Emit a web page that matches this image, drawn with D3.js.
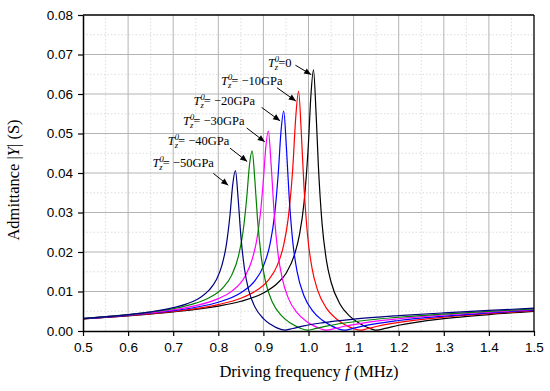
<!DOCTYPE html>
<html lang="en">
<head>
  <meta charset="UTF-8">
  <script src="https://d3js.org/d3.v7.min.js"></script>
  <style>
    body { margin: 0; background: #fff; }
  </style>
</head>
<body>
  <svg id="chart" width="550" height="391"></svg>
  <script>
    // tick values
    var xTicks = [0.5, 0.6, 0.7, 0.8, 0.9, 1.0, 1.1, 1.2, 1.3, 1.4, 1.5];
    var xMinor = [0.55, 0.65, 0.75, 0.85, 0.95, 1.05, 1.15, 1.25, 1.35, 1.45];
    var yTicks = [0, 0.01, 0.02, 0.03, 0.04, 0.05, 0.06, 0.07, 0.08];
    var yMinor = [0.005, 0.015, 0.025, 0.035, 0.045, 0.055, 0.065, 0.075];

    // Tz0 = 0
    var fBlack = [0.5, 0.6, 0.7, 0.8, 0.85, 0.9, 0.93, 0.95, 0.97, 0.98, 0.99, 1.0, 1.005, 1.011, 1.017, 1.022, 1.03, 1.04, 1.05, 1.07, 1.09, 1.11, 1.13, 1.151, 1.17, 1.2, 1.3, 1.4, 1.5];
    var yBlack = [0.00306, 0.00385, 0.00483, 0.00632, 0.00752, 0.00962, 0.01197, 0.01457, 0.0197, 0.0244, 0.0324, 0.0478, 0.0590, 0.0661, 0.0546, 0.0416, 0.0273, 0.0177, 0.0124, 0.00679, 0.00391, 0.00214, 0.00094, 0.0002, 0.00065, 0.00145, 0.00313, 0.00417, 0.00498];
    // Tz0 = -10 GPa
    var fRed = [0.5, 0.6, 0.7, 0.8, 0.85, 0.88, 0.91, 0.93, 0.945, 0.955, 0.965, 0.972, 0.978, 0.984, 0.99, 0.998, 1.008, 1.02, 1.04, 1.06, 1.08, 1.1, 1.114, 1.13, 1.15, 1.2, 1.3, 1.4, 1.5];
    var yRed = [0.00309, 0.0039, 0.00496, 0.00669, 0.00829, 0.00992, 0.01274, 0.01643, 0.0218, 0.0285, 0.0410, 0.0546, 0.0607, 0.0503, 0.0365, 0.0241, 0.0158, 0.0104, 0.00574, 0.00324, 0.00167, 0.00059, 0.0002, 0.00056, 0.00113, 0.00217, 0.0035, 0.00441, 0.00515];
    // Tz0 = -20 GPa
    var fBlue = [0.5, 0.6, 0.7, 0.75, 0.8, 0.85, 0.88, 0.9, 0.915, 0.925, 0.933, 0.939, 0.945, 0.951, 0.957, 0.965, 0.975, 0.99, 1.01, 1.03, 1.05, 1.065, 1.079, 1.095, 1.12, 1.2, 1.3, 1.4, 1.5];
    var yBlue = [0.00313, 0.00398, 0.00516, 0.00601, 0.00729, 0.00969, 0.01256, 0.01643, 0.0222, 0.0296, 0.0400, 0.0505, 0.0557, 0.0465, 0.0341, 0.0227, 0.0149, 0.00893, 0.00497, 0.00277, 0.00136, 0.00058, 0.0002, 0.00055, 0.00123, 0.00266, 0.00377, 0.00459, 0.00528];
    // Tz0 = -30 GPa
    var fMag = [0.5, 0.6, 0.7, 0.75, 0.8, 0.83, 0.86, 0.875, 0.885, 0.893, 0.9, 0.905, 0.911, 0.917, 0.924, 0.932, 0.942, 0.955, 0.975, 0.995, 1.01, 1.025, 1.04, 1.055, 1.08, 1.12, 1.2, 1.3, 1.4, 1.5];
    var yMag = [0.00316, 0.00406, 0.00536, 0.00641, 0.00819, 0.01009, 0.01401, 0.0181, 0.0229, 0.0294, 0.0383, 0.0461, 0.0506, 0.0423, 0.0296, 0.0199, 0.0132, 0.00839, 0.00458, 0.00248, 0.00143, 0.00063, 0.0002, 0.00052, 0.0012, 0.00201, 0.0031, 0.00405, 0.00479, 0.00544];
    // Tz0 = -40 GPa
    var fGreen = [0.5, 0.6, 0.65, 0.7, 0.75, 0.78, 0.81, 0.83, 0.845, 0.855, 0.863, 0.869, 0.875, 0.881, 0.887, 0.895, 0.905, 0.92, 0.94, 0.96, 0.98, 0.998, 1.015, 1.04, 1.08, 1.15, 1.2, 1.3, 1.4, 1.5];
    var yGreen = [0.00318, 0.00414, 0.00478, 0.00565, 0.00704, 0.00841, 0.01091, 0.01421, 0.01909, 0.02526, 0.03366, 0.04191, 0.0456, 0.03832, 0.02825, 0.01891, 0.01235, 0.00727, 0.00388, 0.0020, 0.00079, 0.0002, 0.00058, 0.00124, 0.00202, 0.00297, 0.00348, 0.00429, 0.00497, 0.00558];
    // Tz0 = -50 GPa
    var fNavy = [0.5, 0.6, 0.65, 0.7, 0.73, 0.76, 0.78, 0.795, 0.808, 0.818, 0.826, 0.832, 0.838, 0.844, 0.85, 0.858, 0.868, 0.88, 0.9, 0.915, 0.93, 0.947, 0.965, 0.99, 1.03, 1.1, 1.2, 1.3, 1.4, 1.5];
    var yNavy = [0.00315, 0.00414, 0.00485, 0.0059, 0.00687, 0.00849, 0.01039, 0.01283, 0.01661, 0.02194, 0.02942, 0.03706, 0.0406, 0.03348, 0.02411, 0.01577, 0.01008, 0.00636, 0.00314, 0.00176, 0.0008, 0.0002, 0.00064, 0.00131, 0.00207, 0.00299, 0.00389, 0.00459, 0.00521, 0.00577];

    var seriesLabels = ['0', '\u221210GPa', '\u221220GPa', '\u221230GPa', '\u221240GPa', '\u221250GPa'];
    var seriesColors = ['#000000', '#ff0000', '#0000ff', '#ff00ff', '#008000', '#000080'];
    // annotation anchors in data units: text start, arrow tail, arrow tip
    var labelF = [0.910, 0.806, 0.745, 0.722, 0.688, 0.654];
    var labelY = [0.0669, 0.0623, 0.0572, 0.0521, 0.0471, 0.0415];
    var tailF = [0.971, 0.930, 0.896, 0.863, 0.826, 0.789];
    var tailY = [0.0673, 0.0616, 0.0566, 0.0514, 0.0463, 0.0399];
    var tipF = [1.006, 0.972, 0.937, 0.903, 0.864, 0.822];
    var tipY = [0.0649, 0.0582, 0.0532, 0.0479, 0.0429, 0.0369];

    var series = [
      [fBlack, yBlack], [fRed, yRed], [fBlue, yBlue],
      [fMag, yMag], [fGreen, yGreen], [fNavy, yNavy]
    ];

    var svg = d3.select('#chart');
    var x = d3.scaleLinear().domain([0.5, 1.5]).range([83, 534]);
    var y = d3.scaleLinear().domain([0, 0.08]).range([331, 15]);

    // grid
    var grid = svg.append('g');
    grid.selectAll('.xmin').data(xMinor).enter().append('line')
      .attr('x1', d => x(d)).attr('x2', d => x(d)).attr('y1', y(0)).attr('y2', y(0.08))
      .attr('stroke', '#d4d4d4').attr('stroke-width', 0.8).attr('stroke-dasharray', '1.5,2');
    grid.selectAll('.ymin').data(yMinor).enter().append('line')
      .attr('x1', x(0.5)).attr('x2', x(1.5)).attr('y1', d => y(d)).attr('y2', d => y(d))
      .attr('stroke', '#d4d4d4').attr('stroke-width', 0.8).attr('stroke-dasharray', '1.5,2');
    grid.selectAll('.xmaj').data(xTicks.slice(1, -1)).enter().append('line')
      .attr('x1', d => x(d)).attr('x2', d => x(d)).attr('y1', y(0)).attr('y2', y(0.08))
      .attr('stroke', '#b4b4b4').attr('stroke-width', 1);
    grid.selectAll('.ymaj').data(yTicks.slice(1, -1)).enter().append('line')
      .attr('x1', x(0.5)).attr('x2', x(1.5)).attr('y1', d => y(d)).attr('y2', d => y(d))
      .attr('stroke', '#b4b4b4').attr('stroke-width', 1);

    // curves
    var line = d3.line().x(d => x(d[0])).y(d => y(d[1])).curve(d3.curveMonotoneX);
    series.forEach(function(s, i) {
      var pts = s[0].map((f, k) => [f, s[1][k]]);
      svg.append('path').datum(pts)
        .attr('d', line).attr('fill', 'none')
        .attr('stroke', seriesColors[i]).attr('stroke-width', 1.2);
    });

    // frame top / right
    svg.append('line').attr('x1', x(0.5)).attr('x2', x(1.5)).attr('y1', y(0.08)).attr('y2', y(0.08))
      .attr('stroke', '#000').attr('stroke-width', 1.3);
    svg.append('line').attr('x1', x(1.5)).attr('x2', x(1.5)).attr('y1', y(0)).attr('y2', y(0.08))
      .attr('stroke', '#000').attr('stroke-width', 1.3);

    // axes
    var tickFont = '"Liberation Sans", Arial, sans-serif';
    var gx = svg.append('g').attr('transform', 'translate(0,' + y(0) + ')');
    gx.call(d3.axisBottom(x).tickValues(xMinor).tickSize(3).tickFormat('').tickSizeOuter(0));
    gx.call(d3.axisBottom(x).tickValues(xTicks).tickSize(5).tickPadding(6).tickSizeOuter(0)
      .tickFormat(d3.format('.1f')));
    var gy = svg.append('g').attr('transform', 'translate(' + x(0.5) + ',0)');
    gy.call(d3.axisLeft(y).tickValues(yMinor).tickSize(3).tickFormat('').tickSizeOuter(0));
    gy.call(d3.axisLeft(y).tickValues(yTicks).tickSize(5).tickPadding(5).tickSizeOuter(0)
      .tickFormat(d3.format('.2f')));
    svg.selectAll('.domain').attr('stroke', '#000').attr('stroke-width', 1.5);
    svg.selectAll('.tick line').attr('stroke', '#000').attr('stroke-width', 1.2);
    svg.selectAll('.tick text').attr('font-family', tickFont).attr('font-size', 13.5).attr('fill', '#000');

    // axis titles
    var serif = '"Liberation Serif", "Times New Roman", serif';
    var xt = svg.append('text').attr('x', 309).attr('y', 377).attr('text-anchor', 'middle')
      .attr('font-family', serif).attr('font-size', 16.5);
    xt.append('tspan').text('Driving frequency ');
    xt.append('tspan').attr('font-style', 'italic').text('f');
    xt.append('tspan').text(' (MHz)');

    var yt = svg.append('text').attr('transform', 'translate(19,180) rotate(-90)')
      .attr('text-anchor', 'middle').attr('font-family', serif).attr('font-size', 16.5);
    yt.append('tspan').text('Admittance |');
    yt.append('tspan').attr('font-style', 'italic').text('Y');
    yt.append('tspan').text('| (S)');

    // annotations
    var notes = svg.append('g');
    seriesLabels.forEach(function(lab, i) {
      var t = notes.append('text').attr('x', x(labelF[i])).attr('y', y(labelY[i]))
        .attr('font-family', serif).attr('font-size', 12.5).attr('fill', '#000');
      t.append('tspan').attr('font-style', 'italic').text('T');
      t.append('tspan').attr('font-style', 'italic').attr('font-size', 8.5).attr('dy', -5).text('0');
      t.append('tspan').attr('font-style', 'italic').attr('font-size', 8.5).attr('dx', -4.3).attr('dy', 8).text('z');
      t.append('tspan').attr('dy', -3).text(i === 0 ? '=' + lab : '= ' + lab);

      var x1 = x(tailF[i]), y1 = y(tailY[i]), x2 = x(tipF[i]), y2 = y(tipY[i]);
      var ang = Math.atan2(y2 - y1, x2 - x1) * 180 / Math.PI;
      notes.append('line')
        .attr('x1', x1).attr('y1', y1).attr('x2', x2).attr('y2', y2)
        .attr('stroke', '#000').attr('stroke-width', 1);
      notes.append('path')
        .attr('d', 'M0,0 L-7,-3 L-7,3 Z')
        .attr('transform', 'translate(' + x2 + ',' + y2 + ') rotate(' + ang + ')')
        .attr('fill', '#000');
    });
  </script>
</body>
</html>
